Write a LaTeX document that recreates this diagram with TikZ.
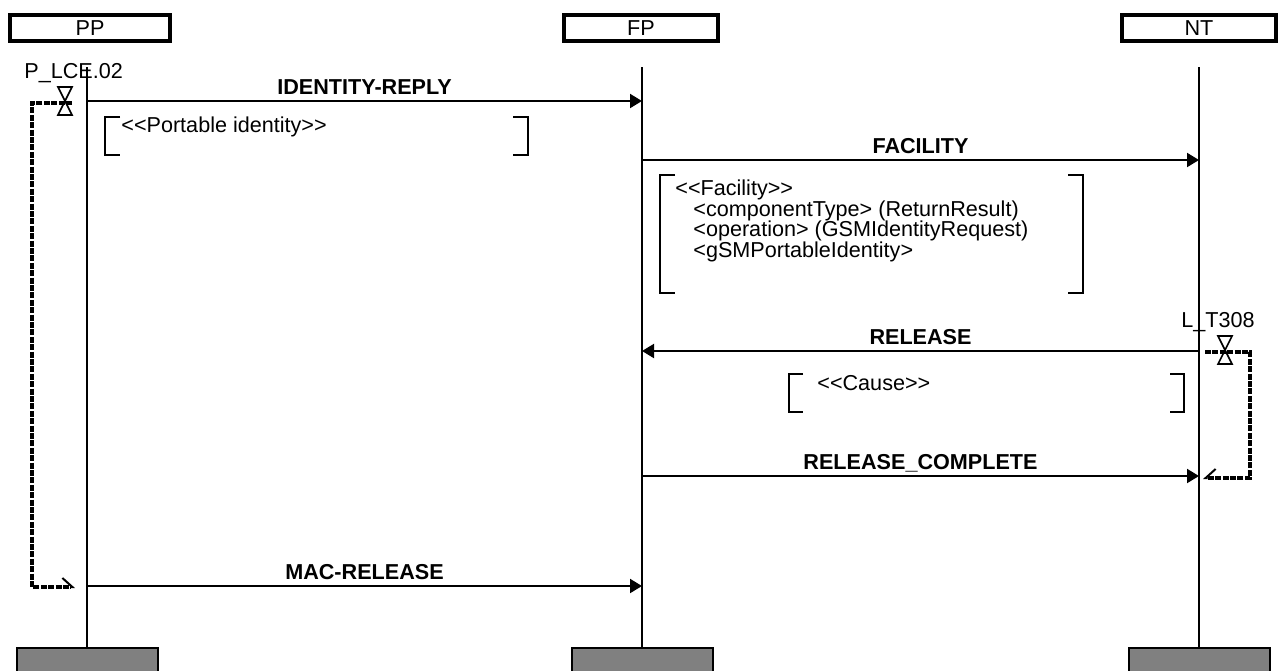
\documentclass[tikz,border=0pt]{standalone}
\usepackage{fontspec}
\setmainfont{Liberation Sans}[Ligatures=TeXOff]
\usetikzlibrary{arrows.meta}

\tikzset{
  head/.style={draw, line width=2pt, minimum width=77pt, minimum height=13pt, inner sep=1pt, font=\fontsize{10.8}{12}\selectfont},
  endbox/.style={draw, fill=gray, line width=1pt, minimum width=70.5pt, minimum height=20pt, anchor=north},
  life/.style={line width=1pt},
  msg/.style={line width=1pt, -{Triangle[length=6pt,width=7pt]}},
  msglbl/.style={anchor=base, yshift=3.3pt, inner sep=0pt, font=\fontsize{10.8}{12}\selectfont\bfseries},
  txt/.style={anchor=base west, inner sep=0pt, font=\fontsize{10.8}{12}\selectfont},
  brk/.style={line width=1pt},
  timer/.style={line width=2pt, dash pattern=on 3pt off 0.7pt},
  hglass/.pic={\draw[line width=0.8pt] (-7,-14) -- (7,-14) -- (-7,14) -- (7,14) -- cycle;}
}

\begin{document}
\begin{tikzpicture}[x=0.5pt, y=-0.5pt]
\useasboundingbox (0,0) rectangle (1278,670);

% instances
\node[head, minimum width=80pt] (PP) at (90,28) {PP};
\node[head] (FP) at (641,28) {FP};
\node[head] (NT) at (1199,28) {NT};

% lifelines
\coordinate (PPtop) at (87,67);
\coordinate (FPtop) at (642,67);
\coordinate (NTtop) at (1199,67);
\node[endbox] (PPend) at (87,647) {};
\node[endbox] (FPend) at (642,647) {};
\node[endbox] (NTend) at (1199,647) {};
\draw[life] (PPtop) -- (PPend.north);
\draw[life] (FPtop) -- (FPend.north);
\draw[life] (NTtop) -- (NTend.north);

% messages
\coordinate (irA) at (87,101);   \coordinate (irB) at (642,101);
\coordinate (facA) at (642,160); \coordinate (facB) at (1199,160);
\coordinate (relA) at (1199,351); \coordinate (relB) at (642,351);
\coordinate (rcA) at (642,476);  \coordinate (rcB) at (1199,476);
\coordinate (macA) at (87,586);  \coordinate (macB) at (642,586);
\draw[msg] (irA) -- node[msglbl] (irlbl) {IDENTITY-REPLY} (irB);
\draw[msg] (facA) -- node[msglbl] (faclbl) {FACILITY} (facB);
\draw[msg] (relA) -- node[msglbl] (rellbl) {RELEASE} (relB);
\draw[msg] (rcA) -- node[msglbl] (rclbl) {RELEASE\_COMPLETE} (rcB);
\draw[msg] (macA) -- node[msglbl] (maclbl) {MAC-RELEASE} (macB);

% parameters
\draw[brk] (120,117) -- (105,117) -- (105,155) -- (120,155);
\draw[brk] (513,117) -- (528,117) -- (528,155) -- (513,155);
\node[txt] (pid) at (121,132) {<<Portable identity>>};

\draw[brk] (675,175) -- (660,175) -- (660,293) -- (675,293);
\draw[brk] (1068,175) -- (1083,175) -- (1083,293) -- (1068,293);
\foreach \x/\y/\t [count=\i] in {675/195/{<<Facility>>},
    693/216/{<componentType> (ReturnResult)},
    693/236/{<operation> (GSMIdentityRequest)},
    693/257/{<gSMPortableIdentity>}}
  \node[txt] (fac\i) at (\x,\y) {\t};

\draw[brk] (803,374) -- (789,374) -- (789,412) -- (803,412);
\draw[brk] (1170,374) -- (1184,374) -- (1184,412) -- (1170,412);
\node[txt] (cause) at (817,390) {<<Cause>>};

% timers
\node[txt] (lce) at (24,78) {P\_LCE.02};
\pic (lcehg) at (65,101) {hglass};
\draw[timer, -{Straight Barb[harpoon, length=5pt, width=9pt, line width=1pt]}]
  (72,103) -- (32,103) -- (32,587) -- (75,587);

\node[txt] (t308) at (1181,327) {L\_T308};
\pic (t308hg) at (1225,350) {hglass};
\draw[timer, -{Straight Barb[harpoon, swap, length=5pt, width=9pt, line width=1pt]}]
  (1205,352) -- (1250,352) -- (1250,478) -- (1203,478);

\end{tikzpicture}
\end{document}
